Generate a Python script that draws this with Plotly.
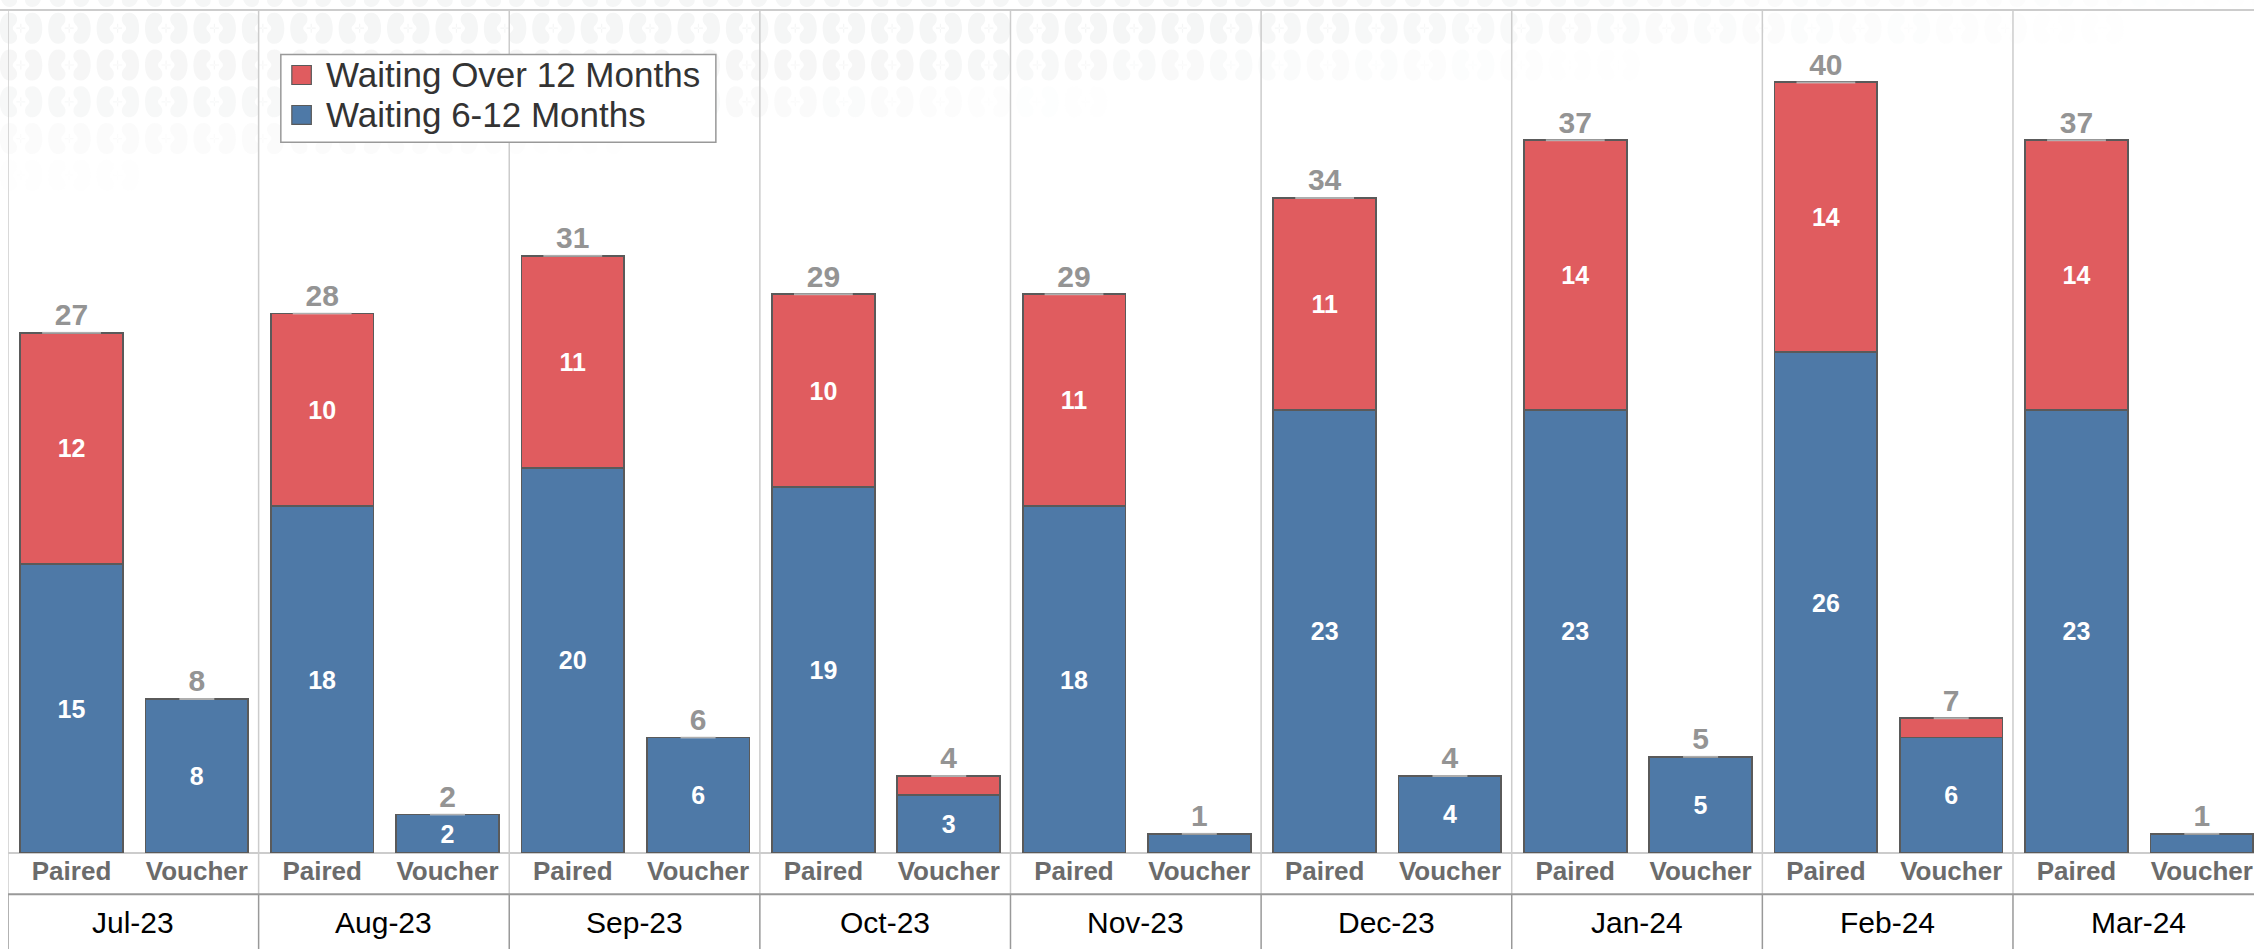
import plotly.graph_objects as go

months = ["Jul-23", "Aug-23", "Sep-23", "Oct-23", "Nov-23", "Dec-23", "Jan-24", "Feb-24", "Mar-24"]
programs = ["Paired", "Voucher"]
series_names = ["Waiting 6-12 Months", "Waiting Over 12 Months"]
wait_6_12_paired = [15, 18, 20, 19, 18, 23, 23, 26, 23]
wait_6_12_voucher = [8, 2, 6, 3, 1, 4, 5, 6, 1]
wait_over_12_paired = [12, 10, 11, 10, 11, 11, 14, 14, 14]
wait_over_12_voucher = [0, 0, 0, 1, 0, 0, 0, 1, 0]

W, H = 2254, 949
L, T, BASE = 8.2, 9.5, 852.7
X0 = -0.507
BLUE, RED, EDGE = "#4e79a7", "#e05c5f", "#5a5a5a"
FONT = "Liberation Sans, Arial, sans-serif"

def px(x):
    return (x - L) / (W - L)

def py(y):
    return (BASE - y) / (BASE - T)

cats, blue, red = [], [], []
for i, m in enumerate(months):
    cats += [f"{m} {programs[0]}", f"{m} {programs[1]}"]
    blue += [wait_6_12_paired[i], wait_6_12_voucher[i]]
    red += [wait_over_12_paired[i], wait_over_12_voucher[i]]
totals = [a + b for a, b in zip(blue, red)]

def inner_labels(vals):
    return [str(v) if v >= 2 else "" for v in vals]

fig = go.Figure()
fig.add_bar(x=cats, y=blue, name=series_names[0], width=0.82,
            marker=dict(color=BLUE, line=dict(color=EDGE, width=1.8)),
            text=inner_labels(blue), textposition="inside", insidetextanchor="middle",
            textangle=0, constraintext="none",
            textfont=dict(family=FONT, size=25, color="white", weight="bold"))
fig.add_bar(x=cats, y=red, name=series_names[1], width=0.82,
            marker=dict(color=RED, line=dict(color=EDGE, width=1.8)),
            text=inner_labels(red), textposition="inside", insidetextanchor="middle",
            textangle=0, constraintext="none",
            textfont=dict(family=FONT, size=25, color="white", weight="bold"))
# light dash under each total label
fig.add_scatter(x=cats, y=totals, mode="markers", hoverinfo="skip",
                marker=dict(symbol="line-ew", size=[42 if t >= 10 else 25 for t in totals],
                            line=dict(color="#d2d2d2", width=2)))
fig.add_scatter(x=cats, y=totals, mode="text", text=[str(t) for t in totals],
                textposition="top center", cliponaxis=False,
                textfont=dict(family=FONT, size=30, color="#949494", weight="bold"))

shapes = []

# faint kidney watermark along the top, fading towards the right and downwards
BEAN = [(-1, -15.5), (6, -15.5), (9, -8), (9, 0), (9, 8), (6, 15.5), (-1, 15.5), (-7, 15.5),
        (-9, 11), (-8, 7), (-7, 3), (-4, 3), (-4, 0), (-4, -3), (-7, -3), (-8, -7),
        (-9, -11), (-7, -15.5), (-1, -15.5)]

def bean_path(cx, cy, sign):
    pts = [(px(cx + sign * a), py(cy + b)) for a, b in BEAN]
    s = f"M{pts[0][0]:.5f},{pts[0][1]:.5f}"
    for k in range(1, len(pts), 3):
        s += "C" + " ".join(f"{p[0]:.5f},{p[1]:.5f}" for p in pts[k:k + 3])
    return s + "Z"

def plus_path(cx, cy, arm=4.5, half=0.6):
    rects = [(cx - arm, cy - half, cx + arm, cy + half), (cx - half, cy - arm, cx + half, cy + arm)]
    s = ""
    for a, b, c, d in rects:
        s += (f"M{px(a):.5f},{py(b):.5f}L{px(c):.5f},{py(b):.5f}"
              f"L{px(c):.5f},{py(d):.5f}L{px(a):.5f},{py(d):.5f}Z")
    return s

row_limits = {-1: 2300, 0: 2150, 1: 1650, 2: 1120, 3: 640, 4: 160}
row_alpha = {-1: 1.0, 0: 1.0, 1: 0.95, 2: 0.8, 3: 0.4, 4: 0.08}
for row, limit in row_limits.items():
    cy = 27.7 + 36.8 * row
    for col in range(48):
        x0 = 48.4 * col
        if x0 > limit:
            continue
        alpha = min(1.0, 2.2 * (1 - x0 / limit)) * row_alpha[row]
        if alpha < 0.04:
            continue
        path = bean_path(x0 + 9, cy, -1) + bean_path(x0 + 33.5, cy, 1) + plus_path(x0 + 21, cy)
        shapes.append(dict(type="path", xref="paper", yref="paper", path=path, layer="below",
                           fillcolor="#f5f6f6", opacity=alpha, line=dict(width=0)))

# frame and panel dividers
LIGHT, DARK = "#cccccc", "#999999"
for i in range(len(months)):
    edge = X0 + 2 * i
    shapes.append(dict(type="line", xref="x", yref="paper", x0=edge, x1=edge, y0=py(T), y1=py(894),
                       line=dict(color=LIGHT, width=1.5), layer="below"))
    shapes.append(dict(type="line", xref="x", yref="paper", x0=edge, x1=edge, y0=py(894), y1=py(949),
                       line=dict(color=DARK, width=1.5), layer="below"))
for y, c in [(T, LIGHT), (BASE, LIGHT), (894, DARK)]:
    shapes.append(dict(type="line", xref="paper", yref="paper", x0=px(0) if y == T else 0, x1=1, y0=py(y), y1=py(y),
                       line=dict(color=c, width=2), layer="below"))

# legend
shapes.append(dict(type="rect", xref="paper", yref="paper", x0=px(281), x1=px(716), y0=py(54), y1=py(141.7),
                   fillcolor="white", line=dict(color=DARK, width=1.5), layer="above"))
legend_rows = [(series_names[1], RED, 74.5), (series_names[0], BLUE, 114.5)]
annotations = []
for name, color, yc in legend_rows:
    shapes.append(dict(type="rect", xref="paper", yref="paper", x0=px(292), x1=px(311.5),
                       y0=py(yc - 9.5), y1=py(yc + 9.5), fillcolor=color,
                       line=dict(color=EDGE, width=1.2), layer="above"))
    annotations.append(dict(xref="paper", yref="paper", x=px(324), y=py(yc), text=name, showarrow=False,
                            xanchor="left", yanchor="middle",
                            font=dict(family=FONT, size=35, color="#333333")))

# month row
for i, m in enumerate(months):
    annotations.append(dict(xref="x", yref="paper", x=X0 + 1 + 2 * i, y=py(922), text=m, showarrow=False,
                            xanchor="center", yanchor="middle",
                            font=dict(family=FONT, size=30, color="black")))

fig.update_layout(
    width=W, height=H, autosize=False, barmode="stack", showlegend=False,
    margin=dict(l=L, r=0, t=T, b=H - BASE, pad=0),
    paper_bgcolor="white", plot_bgcolor="rgba(0,0,0,0)",
    shapes=shapes, annotations=annotations,
    xaxis=dict(type="category", categoryorder="array", categoryarray=cats,
               range=[X0, X0 + (W - L) / 125.3],
               tickmode="array", tickvals=cats, ticktext=[programs[k % 2] for k in range(len(cats))],
               tickangle=0, ticks="", ticklen=0, showgrid=False, zeroline=False, showline=False,
               tickfont=dict(family=FONT, size=26, color="#6b6b6b", weight="bold")),
    yaxis=dict(range=[0, (BASE - T) / 19.27], showticklabels=False, ticks="",
               showgrid=False, zeroline=False, showline=False),
)

fig.write_html("out.html", config=dict(displayModeBar=False),
               post_script="document.documentElement.style.overflow='hidden';document.body.style.margin='0';")
